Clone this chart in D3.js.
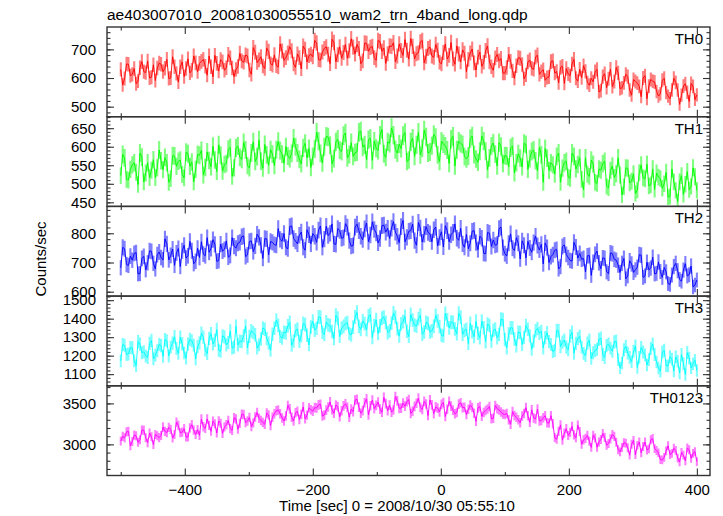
<!DOCTYPE html>
<html><head><meta charset="utf-8">
<script src="https://cdn.jsdelivr.net/npm/d3@7"></script>
<style>body{margin:0;background:#fff}</style>
</head><body>
<svg id="c" width="723" height="516"></svg>
<script>
const titleText = "ae403007010_20081030055510_wam2_trn_4band_long.qdp";
const xLabel = "Time [sec] 0 = 2008/10/30 05:55:10";
const yLabel = "Counts/sec";
const bandNames = ["TH0", "TH1", "TH2", "TH3", "TH0123"];
const bandColors = ["#ff0000", "#00ff00", "#0000ff", "#00ffff", "#ff00ff"];
const times = d3.range(-500, 401, 3);

const th0 = [
 630,576,598,649,648,608,613,633,580,589,636,657,622,619,659,600,603,646,591,635,
 652,648,622,634,665,598,600,674,639,616,586,639,656,605,633,667,618,627,677,653,
 622,651,658,665,641,610,677,639,604,679,651,624,664,656,627,636,682,670,635,605,
 630,640,686,660,655,680,677,628,613,706,690,654,663,674,642,633,704,693,650,645,
 681,643,638,719,694,662,671,687,709,695,649,637,684,671,632,711,700,656,678,683,
 674,731,722,664,662,691,703,709,683,650,735,724,657,681,709,669,689,717,669,695,
 737,708,684,717,703,650,660,722,721,693,707,710,671,662,731,727,693,705,651,685,
 712,710,723,657,677,719,696,679,734,697,666,738,710,667,685,688,726,731,653,676,
 703,708,677,672,717,697,655,649,689,719,666,679,724,667,648,712,684,656,698,686,
 622,665,687,701,653,628,673,690,641,655,696,712,656,639,627,670,682,660,668,617,
 617,637,682,658,625,599,643,671,669,647,597,611,656,663,634,630,673,680,613,622,
 629,592,602,604,657,660,617,623,583,637,641,581,633,614,608,649,665,599,589,631,
 601,643,623,584,575,599,587,622,630,552,556,605,615,566,597,631,570,588,637,618,
 563,566,583,613,605,558,540,595,588,582,571,535,600,608,528,572,595,589,586,553,
 537,545,592,599,549,537,528,558,599,585,558,508,540,572,580,550,518,581,571,525,
 541];
const th1 = [
 522,579,570,512,510,539,551,557,531,498,583,572,505,529,557,517,537,565,517,543,
 591,562,538,571,557,504,514,576,575,547,561,564,525,516,585,581,547,559,505,539,
 579,577,590,524,544,586,563,546,601,564,533,605,577,534,552,555,593,598,520,543,
 597,602,571,566,611,591,549,543,583,613,560,573,618,561,542,606,578,550,592,580,
 549,592,614,590,580,555,600,575,568,582,623,600,583,566,554,597,609,570,595,544,
 574,594,639,615,582,556,600,628,626,604,554,568,613,620,591,587,630,637,570,579,
 611,574,584,586,639,642,599,605,565,619,623,563,615,596,590,631,647,581,571,613,
 609,651,631,592,583,607,595,630,638,560,564,613,623,574,605,639,578,596,645,626,
 583,586,603,633,625,578,560,615,608,602,591,555,620,628,548,592,615,609,606,573,
 567,575,622,629,579,567,558,588,629,615,588,538,570,602,610,580,548,611,601,555,
 576,575,546,597,602,529,557,581,569,546,609,606,539,568,587,591,562,535,598,578,
 504,595,569,536,557,551,526,574,583,504,542,557,561,518,515,583,574,540,552,570,
 512,484,570,526,520,564,553,504,501,540,537,554,561,493,489,536,548,517,527,570,
 524,470,492,543,542,502,507,527,474,483,530,551,516,513,553,494,497,540,485,529,
 518,514,488,500,531,464,466,540,505,482,452,505,522,471,499,533,484,493,543,519,
 482];
const th2 = [
 682,752,747,693,690,722,708,731,734,661,662,714,721,675,699,740,738,697,678,727,
 736,717,709,781,764,709,724,746,690,733,748,686,740,759,715,723,772,740,696,704,
 749,717,771,729,723,785,735,748,778,762,704,706,763,739,745,774,718,724,785,756,
 749,766,769,788,791,720,726,772,774,737,757,797,786,759,714,782,781,726,772,769,
 761,759,816,779,773,799,752,747,823,825,782,773,764,793,804,752,742,812,795,764,
 799,790,769,811,825,752,780,824,792,800,832,764,762,816,810,783,785,833,821,775,
 756,758,821,831,809,790,778,815,835,771,794,839,813,801,767,782,826,828,804,817,
 782,818,840,804,790,768,823,844,771,786,807,809,831,775,759,837,818,770,797,823,
 803,798,771,812,821,757,786,805,753,826,809,771,795,803,832,783,776,817,764,752,
 796,747,766,807,809,768,744,790,783,731,730,803,800,755,777,759,762,816,821,751,
 730,722,766,798,749,741,785,766,712,774,759,716,772,750,735,768,790,758,743,762,
 695,767,751,700,720,727,742,745,678,686,755,760,728,717,707,705,769,753,715,731,
 711,714,668,723,724,656,701,728,739,699,679,716,714,668,662,733,730,711,708,691,
 666,697,714,644,654,706,695,666,675,684,727,725,649,654,701,675,681,718,661,663,
 702,669,649,683,668,628,625,657,686,697,672,642,636,674,696,654,658,688,616,623,
 640];
const th3 = [
 1172,1260,1256,1206,1209,1244,1242,1172,1146,1276,1262,1216,1221,1198,1190,1266,1282,1182,1202,1227,
 1260,1254,1196,1287,1280,1198,1245,1268,1302,1239,1212,1300,1264,1215,1186,1262,1288,1280,1256,1182,
 1249,1269,1321,1300,1231,1211,1293,1319,1263,1283,1341,1229,1223,1307,1301,1258,1271,1333,1241,1246,
 1358,1258,1278,1276,1307,1360,1242,1304,1334,1325,1313,1241,1259,1290,1349,1343,1292,1268,1229,1316,
 1348,1392,1364,1304,1295,1326,1324,1361,1380,1256,1278,1336,1344,1277,1307,1374,1368,1310,1259,1355,
 1386,1338,1348,1409,1408,1326,1314,1382,1366,1362,1331,1292,1418,1402,1304,1348,1358,1373,1379,1319,
 1312,1354,1409,1434,1358,1342,1388,1373,1340,1414,1422,1298,1362,1394,1319,1361,1402,1408,1380,1324,
 1334,1376,1431,1408,1346,1306,1372,1384,1412,1332,1304,1422,1392,1365,1359,1400,1418,1316,1328,1380,
 1375,1328,1334,1358,1417,1388,1357,1310,1306,1428,1393,1350,1381,1380,1344,1318,1429,1408,1315,1336,
 1343,1266,1375,1329,1303,1386,1321,1296,1386,1350,1275,1371,1363,1279,1337,1344,1296,1315,1397,1395,
 1287,1242,1317,1351,1350,1290,1253,1327,1325,1261,1299,1363,1343,1307,1235,1278,1335,1347,1321,1331,
 1242,1297,1324,1276,1260,1222,1228,1336,1334,1249,1273,1284,1246,1232,1306,1326,1213,1266,1292,1304,
 1245,1212,1200,1268,1284,1185,1216,1228,1234,1288,1294,1206,1190,1254,1262,1240,1224,1275,1278,1178,
 1134,1160,1232,1250,1214,1191,1167,1224,1252,1136,1191,1244,1220,1204,1150,1178,1239,1263,1206,1166,
 1133,1115,1220,1229,1145,1144,1194,1181,1116,1193,1170,1106,1206,1157,1098,1217,1187,1134,1156,1175,
 1120];
const th0123 = [
 3040,3097,3079,3153,3159,2983,3035,3113,3103,3025,3057,3175,3173,3080,3021,3137,3093,2997,3121,3105,
 3082,3108,3212,3158,3144,3208,3184,3078,3120,3272,3230,3142,3150,3192,3092,3090,3202,3240,3174,3120,
 3179,3110,3309,3215,3195,3310,3231,3160,3283,3250,3139,3285,3257,3133,3213,3240,3291,3193,3171,3325,
 3310,3185,3256,3368,3366,3265,3286,3328,3218,3262,3334,3388,3318,3292,3268,3245,3382,3360,3230,3332,
 3375,3410,3419,3375,3323,3285,3347,3475,3433,3330,3285,3387,3403,3303,3367,3457,3313,3357,3447,3423,
 3406,3448,3446,3482,3490,3345,3360,3418,3456,3518,3422,3380,3480,3460,3336,3410,3470,3495,3452,3332,
 3430,3400,3540,3550,3454,3380,3412,3508,3554,3360,3472,3540,3436,3476,3516,3430,3392,3573,3498,3410,
 3480,3393,3420,3583,3532,3440,3442,3503,3466,3523,3546,3378,3406,3463,3502,3563,3452,3426,3524,3493,
 3352,3542,3482,3375,3458,3442,3396,3488,3510,3340,3428,3525,3466,3418,3374,3388,3492,3508,3448,3452,
 3364,3428,3480,3450,3380,3282,3446,3462,3342,3390,3414,3432,3462,3312,3318,3475,3436,3420,3394,3370,
 3364,3378,3300,3245,3400,3352,3330,3300,3264,3345,3376,3448,3348,3270,3422,3322,3310,3430,3286,3292,
 3324,3350,3264,3260,3350,3252,3080,3062,3158,3238,3052,3138,3192,3108,3146,3220,3116,3080,3234,3155,
 3001,3055,3073,3110,3039,2963,3111,3077,2965,3030,3059,3133,3085,2990,3011,3067,3121,3097,3027,2935,
 2908,2962,3020,3015,2958,2868,3002,3048,2874,2988,3028,2898,2974,3028,2932,2945,3056,3070,2948,2925,
 2896,2812,2810,2842,2922,2982,2876,2890,2952,2925,2832,2785,2902,2868,2798,2955,2934,2830,2890,2910,
 2790];
const seriesValues = [th0, th1, th2, th3, th0123];

const yDomains = [[465, 778], [439, 681], [585, 892], [1037, 1522], [2620, 3715]];
const yMajorTicks = [[500, 600, 700], [450, 500, 550, 600, 650], [600, 700, 800], [1100, 1200, 1300, 1400, 1500], [3000, 3500]];
const yMinorStep = [20, 10, 20, 20, 100];
const xMajorTicks = [-400, -200, 0, 200, 400];
const xMinorTicks = [-500, -300, -100, 100, 300];
const xDomain = [-521.5, 420.5];

const svg = d3.select("#c");
const L = 107, R = 710, T = 27, PH = 89.7;
const font = "'Liberation Sans', Arial, Helvetica, sans-serif";
const frameColor = "#333";

const x = d3.scaleLinear().domain(xDomain).range([L, R]);

svg.append("text").attr("x", 107).attr("y", 20).attr("font-family", font).attr("font-size", 15.5)
  .attr("fill", "#000").text(titleText);

seriesValues.forEach((vals, p) => {
  const top = T + p * PH, bot = top + PH;
  const y = d3.scaleLinear().domain(yDomains[p]).range([bot, top]);
  const g = svg.append("g");
  const clipId = "clip" + p;
  svg.append("clipPath").attr("id", clipId).append("rect")
    .attr("x", L).attr("y", top).attr("width", R - L).attr("height", PH);
  const dg = g.append("g").attr("clip-path", `url(#${clipId})`);
  const col = bandColors[p];
  const pts = vals.map((v, i) => ({t: times[i], v, e: Math.sqrt(v)}));
  dg.selectAll("line.err").data(pts).join("line")
    .attr("x1", d => x(d.t)).attr("x2", d => x(d.t))
    .attr("y1", d => y(d.v - d.e)).attr("y2", d => y(d.v + d.e))
    .attr("stroke", col).attr("stroke-opacity", 0.5).attr("stroke-width", 2.1);
  dg.append("path").datum(pts)
    .attr("d", d3.line().x(d => x(d.t)).y(d => y(d.v)))
    .attr("fill", "none").attr("stroke", col).attr("stroke-width", 0.9);

  const [d0, d1] = yDomains[p];
  const minors = d3.range(Math.ceil(d0 / yMinorStep[p]) * yMinorStep[p], d1, yMinorStep[p]);
  const axL = g.append("g").attr("transform", `translate(${L},0)`)
    .call(d3.axisLeft(y).tickValues(yMajorTicks[p]).tickSize(-7).tickPadding(11).tickFormat(d3.format("d")));
  const axLm = g.append("g").attr("transform", `translate(${L},0)`)
    .call(d3.axisLeft(y).tickValues(minors).tickSize(-3.5).tickFormat(""));
  const axR = g.append("g").attr("transform", `translate(${R},0)`)
    .call(d3.axisRight(y).tickValues(yMajorTicks[p]).tickSize(-7).tickFormat(""));
  const axRm = g.append("g").attr("transform", `translate(${R},0)`)
    .call(d3.axisRight(y).tickValues(minors).tickSize(-3.5).tickFormat(""));
  const axT = g.append("g").attr("transform", `translate(0,${top})`)
    .call(d3.axisTop(x).tickValues(xMajorTicks).tickSize(-7).tickFormat(""));
  const axTm = g.append("g").attr("transform", `translate(0,${top})`)
    .call(d3.axisTop(x).tickValues(xMinorTicks).tickSize(-3.5).tickFormat(""));
  const axB = g.append("g").attr("transform", `translate(0,${bot})`)
    .call(d3.axisBottom(x).tickValues(xMajorTicks).tickSize(-7).tickPadding(9)
      .tickFormat(p === 4 ? d3.format("d") : ""));
  const axBm = g.append("g").attr("transform", `translate(0,${bot})`)
    .call(d3.axisBottom(x).tickValues(xMinorTicks).tickSize(-3.5).tickFormat(""));
  [axL, axLm, axR, axRm, axT, axTm, axB, axBm].forEach(a => {
    a.select(".domain").remove();
    a.selectAll("line").attr("stroke", frameColor).attr("stroke-width", 1.1);
    a.selectAll("text").attr("font-family", font).attr("font-size", 15).attr("fill", "#000");
  });
  g.append("rect").attr("x", L).attr("y", top).attr("width", R - L).attr("height", PH)
    .attr("fill", "none").attr("stroke", frameColor).attr("stroke-width", 1.4);
  g.append("text").attr("x", 703).attr("y", top + 17).attr("text-anchor", "end")
    .attr("font-family", font).attr("font-size", 15).attr("fill", "#000").text(bandNames[p]);
});

svg.append("text").attr("x", 397).attr("y", 511).attr("text-anchor", "middle")
  .attr("font-family", font).attr("font-size", 15).attr("fill", "#000").text(xLabel);
svg.append("text").attr("transform", "translate(46,259) rotate(-90)").attr("text-anchor", "middle")
  .attr("font-family", font).attr("font-size", 15).attr("fill", "#000").text(yLabel);
</script>
</body></html>
